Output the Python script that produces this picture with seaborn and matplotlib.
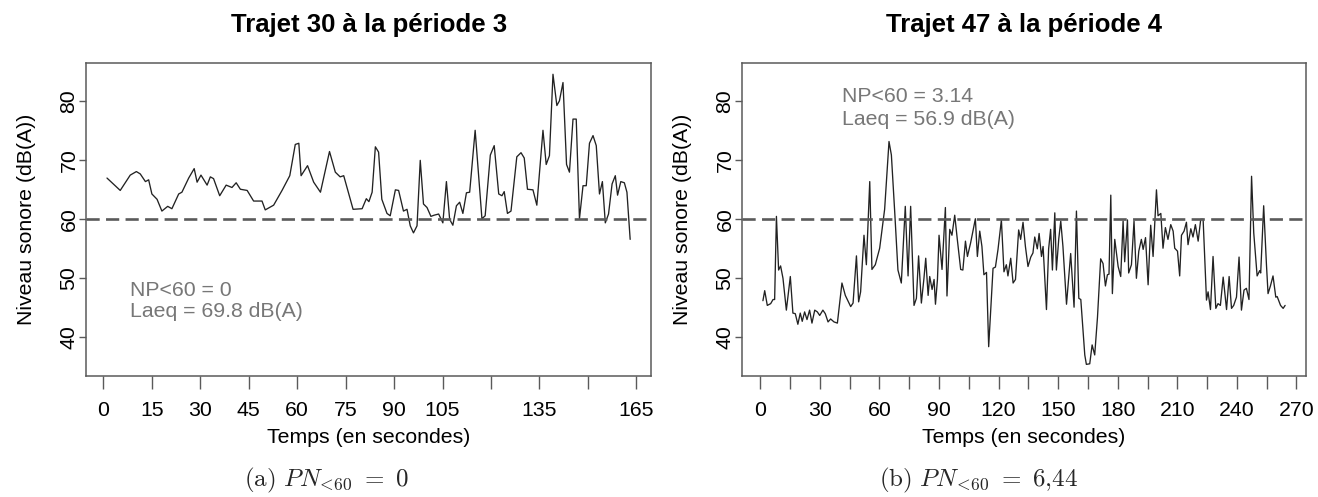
import matplotlib
matplotlib.use("Agg")
import matplotlib.pyplot as plt
import seaborn as sns

# --- Trajet 30, période 3 (temps en s, niveau en dB(A)) ---
trajet30_t = [1.1, 5.2, 8.3, 10.2, 11.4, 13, 14, 15, 16.6, 18.1, 19.9, 21.2, 23.3, 24.3, 26.4, 28.1, 29,
              30.2, 32.1, 33.1, 34.1, 36, 38, 39.8, 41.1, 42.4, 44.5, 46.5, 49.1, 50.1, 52.7, 55.3, 57.7,
              59.4, 60.5, 61.2, 63.2, 65.1, 67.2, 70, 71.8, 73.3, 74.4, 77.3, 80.1, 81.4, 82.2, 83.2, 84.2,
              85.2, 86.2, 87.8, 88.8, 90.4, 91.4, 92.9, 94, 95, 96, 97.1, 98.1, 99.1, 100.2, 101.4, 102.4,
              103.8, 105.1, 106.2, 107.2, 108.2, 109.3, 110.3, 111.3, 112.4, 113.4, 115.1, 117.2, 118.2,
              119.8, 121, 122.4, 123.4, 124.1, 125.1, 126.2, 128, 129.3, 130.3, 131.3, 133, 134.2, 136.1,
              137.1, 138.1, 139.2, 140.4, 141.2, 142.3, 143.4, 144.3, 145.4, 146.4, 147.4, 148.5, 149.5,
              150.5, 151.6, 152.6, 153.6, 154.5, 155.4, 156.4, 157.5, 158.5, 159.2, 160.2, 161.3, 162.1,
              163.1]
trajet30_db = [67.0, 64.9, 67.5, 68.1, 67.7, 66.4, 66.7, 64.3, 63.4, 61.4, 62.2, 61.8, 64.3, 64.6, 67.0,
               68.6, 66.3, 67.5, 65.8, 67.2, 66.9, 64.0, 65.8, 65.4, 66.2, 65.1, 64.9, 63.1, 63.1, 61.6,
               62.4, 64.9, 67.4, 72.7, 72.9, 67.4, 69.1, 66.3, 64.6, 71.5, 68.0, 67.2, 67.4, 61.7, 61.8,
               63.5, 63.0, 64.6, 72.3, 71.4, 63.4, 61.0, 60.6, 65.0, 64.9, 61.4, 61.7, 58.9, 57.7, 58.9,
               70.0, 62.6, 62.0, 60.5, 60.7, 60.9, 59.4, 66.4, 60.0, 59.0, 62.3, 62.9, 61.0, 64.5, 64.6,
               75.1, 60.1, 60.6, 70.9, 72.5, 64.3, 64.0, 64.7, 61.0, 61.4, 70.6, 71.3, 70.4, 65.1, 65.0,
               62.4, 75.1, 69.3, 70.8, 84.6, 79.3, 80.1, 83.2, 69.3, 68.0, 77.0, 77.0, 60.1, 65.7, 65.7,
               72.9, 74.2, 72.5, 64.3, 66.4, 59.4, 60.9, 66.0, 67.4, 64.1, 66.4, 66.2, 64.6, 56.6]

# --- Trajet 47, période 4 ---
trajet47_t = [1.3, 2.2, 3.5, 5.2, 6.4, 7.2, 8.1, 9.2, 10.2, 11.4, 13.1, 15.1, 16.4, 17.6, 18.9, 20.1, 21.1,
              22.3, 23.5, 24.8, 26.0, 27.4, 28.7, 29.9, 31.5, 32.7, 34.1, 35.4, 37.1, 38.8, 41.1, 42.8,
              45.5, 46.7, 48.4, 49.5, 50.5, 52.2, 53.4, 55.1, 56.2, 57.9, 60.1, 62.6, 64.8, 66.0, 67.7,
              69.3, 71.0, 73.0, 74.4, 75.7, 77.4, 78.6, 79.7, 81.1, 82.4, 83.3, 84.5, 85.3, 86.5, 87.5,
              88.2, 89.2, 90.0, 91.5, 93.2, 94.0, 95.4, 96.5, 97.9, 99.2, 100.9, 102.0, 103.3, 104.3,
              105.9, 108.3, 109.3, 110.5, 111.6, 112.6, 113.9, 115.0, 117.2, 118.4, 119.7, 121.4, 122.7,
              123.9, 124.7, 126.1, 127.3, 128.5, 130.1, 131.1, 132.3, 133.5, 134.8, 136.2, 137.3, 138.2,
              139.5, 140.4, 141.6, 142.4, 144.1, 145.2, 146.2, 147.1, 148.3, 149.1, 150.3, 151.3, 152.4,
              154.2, 156.3, 158.0, 159.2, 160.4, 161.4, 163.4, 164.2, 165.9, 167.1, 168.4, 169.8, 171.4,
              172.6, 173.8, 174.8, 175.6, 176.5, 177.3, 178.5, 180.2, 181.5, 182.7, 183.5, 184.9, 185.5,
              186.9, 188.2, 189.4, 190.6, 191.9, 192.8, 194.0, 195.3, 196.6, 197.8, 199.5, 200.3, 201.7,
              202.8, 204.0, 205.3, 206.7, 207.9, 208.7, 210.1, 211.2, 212.1, 213.4, 214.6, 215.4, 216.8,
              217.9, 219.1, 220.5, 221.8, 223.0, 224.7, 225.5, 226.7, 228.0, 229.4, 230.5, 231.7, 233.1,
              234.8, 236.1, 237.3, 238.4, 239.8, 241.1, 242.3, 243.6, 244.8, 246.1, 247.4, 248.5, 250.2,
              251.5, 252.0, 253.5, 254.9, 255.7, 256.9, 258.2, 259.6, 260.3, 262.0, 263.3, 264.3]
trajet47_db = [46.2, 47.9, 45.4, 45.7, 46.4, 46.4, 60.5, 51.4, 52.1, 50.0, 44.6, 50.3, 44.1, 44.0, 42.2,
               44.1, 42.7, 44.3, 43.0, 44.6, 42.4, 44.6, 44.3, 43.7, 44.6, 44.0, 42.6, 43.1, 42.6, 42.4,
               49.2, 47.1, 45.2, 45.8, 53.8, 46.0, 47.7, 57.3, 52.3, 66.4, 51.5, 52.3, 55.1, 61.7, 73.2,
               70.9, 61.1, 51.4, 49.2, 62.2, 50.4, 62.2, 45.4, 46.6, 53.8, 45.8, 50.0, 53.4, 47.1, 50.3,
               48.1, 49.8, 45.6, 49.8, 57.3, 51.5, 62.0, 47.0, 58.3, 57.3, 60.7, 56.6, 51.5, 51.4, 56.3,
               53.7, 56.0, 60.1, 53.7, 58.0, 55.4, 50.6, 51.0, 38.4, 51.7, 51.9, 54.9, 59.9, 51.1, 52.3,
               50.4, 53.4, 49.2, 49.8, 58.2, 56.6, 59.5, 55.4, 52.0, 53.6, 54.3, 57.0, 55.0, 57.6, 53.7,
               55.4, 44.7, 55.0, 58.3, 51.4, 61.1, 51.4, 56.7, 59.7, 55.4, 45.6, 54.2, 45.1, 61.4, 46.6,
               46.4, 37.0, 35.4, 35.5, 38.7, 37.0, 43.4, 53.3, 52.5, 48.7, 50.6, 50.7, 64.1, 47.4, 56.6,
               52.0, 50.3, 59.7, 52.8, 59.9, 50.9, 52.3, 59.7, 50.0, 54.6, 56.6, 54.9, 56.9, 48.9, 59.0,
               53.7, 65.0, 60.6, 61.0, 55.1, 58.6, 56.6, 59.1, 58.0, 55.1, 54.6, 50.4, 57.3, 58.0, 59.5,
               55.7, 58.4, 57.0, 59.1, 56.3, 60.0, 60.0, 46.3, 47.7, 44.7, 53.7, 44.9, 45.7, 45.4, 50.2,
               44.7, 50.3, 44.9, 45.4, 46.8, 53.6, 44.6, 48.0, 48.3, 46.4, 67.3, 57.7, 50.4, 51.3, 50.9,
               62.3, 52.3, 47.4, 48.7, 50.4, 46.8, 46.9, 45.4, 44.9, 45.4]

SEUIL = 60
yticks = [40, 50, 60, 70, 80]
xticks_a = list(range(0, 166, 15))
xlabels_a = ["" if t in (120, 150) else str(t) for t in xticks_a]
xticks_b = list(range(0, 271, 15))
xlabels_b = [str(t) if t % 30 == 0 else "" for t in xticks_b]

titres = ["Trajet 30 à la période 3", "Trajet 47 à la période 4"]
notes = [("NP<60 = 0", "Laeq = 69.8 dB(A)"), ("NP<60 = 3.14", "Laeq = 56.9 dB(A)")]
notes_pos = [(8.1, 48.0, 44.4), (41.3, 80.9, 76.9)]
legendes = [r"$\mathrm{(a)}\ PN_{\!<\!60}\ =\ \mathrm{0}$",
            r"$\mathrm{(b)}\ PN_{\!<\!60}\ =\ \mathrm{6{,}44}$"]

sns.set_style("white")
plt.rcParams['font.family'] = ['Liberation Sans', 'DejaVu Sans']
plt.rcParams['mathtext.fontset'] = 'cm'

GRIS = "#5a5a5a"
FS = 15.3

# plage y commune (marge 4 % comme R)
tous = trajet30_db + trajet47_db
ymin, ymax = min(tous), max(tous)
yr = ymax - ymin
ylim = (ymin - 0.04 * yr, ymax + 0.04 * yr)


def trace_trajet(ax, t, db, xticks, xlabels, titre, note, pos):
    sns.lineplot(x=t, y=db, ax=ax, color="#222222", lw=0.95, sort=False, estimator=None)
    ax.axhline(SEUIL, color=GRIS, lw=1.9, dashes=(5, 2.4))
    xr = max(t) - min(t)
    ax.set_xlim(min(t) - 0.04 * xr, max(t) + 0.04 * xr)
    ax.set_ylim(*ylim)
    ax.set_xticks(xticks)
    ax.set_xticklabels(xlabels)
    ax.set_yticks(yticks)
    ax.set_yticklabels([str(v) for v in yticks], rotation=90, va="center")
    ax.tick_params(axis="x", direction="out", length=9, width=1, color=GRIS, labelsize=FS,
                   labelcolor="black", pad=9, bottom=True)
    ax.tick_params(axis="y", direction="out", length=5, width=1, color=GRIS, labelsize=FS,
                   labelcolor="black", pad=0.5, left=True)
    for s in ax.spines.values():
        s.set_color(GRIS)
        s.set_linewidth(1.1)
    ax.set_title(titre, fontsize=18.5, fontweight="bold", pad=22, color="black")
    ax.set_xlabel("Temps (en secondes)", fontsize=FS, labelpad=6, color="black")
    ax.set_ylabel("Niveau sonore (dB(A))", fontsize=FS, labelpad=17, color="black")
    x0, y1, y2 = pos
    ax.text(x0, y1, note[0], fontsize=FS, color="#777777", va="center", ha="left")
    ax.text(x0, y2, note[1], fontsize=FS, color="#777777", va="center", ha="left")


fig = plt.figure(figsize=(13.18, 4.97), dpi=100)
ax1 = fig.add_axes([0.0653, 0.2435, 0.4287, 0.6304])
ax2 = fig.add_axes([0.563, 0.2435, 0.4279, 0.6304])

trace_trajet(ax1, trajet30_t, trajet30_db, xticks_a, xlabels_a, titres[0], notes[0], notes_pos[0])
trace_trajet(ax2, trajet47_t, trajet47_db, xticks_b, xlabels_b, titres[1], notes[1], notes_pos[1])

fig.text(0.2475, 0.033, legendes[0], fontsize=18, ha="center", va="center")
fig.text(0.7425, 0.033, legendes[1], fontsize=18, ha="center", va="center")

plt.savefig("out.png", dpi=100)
plt.close()
